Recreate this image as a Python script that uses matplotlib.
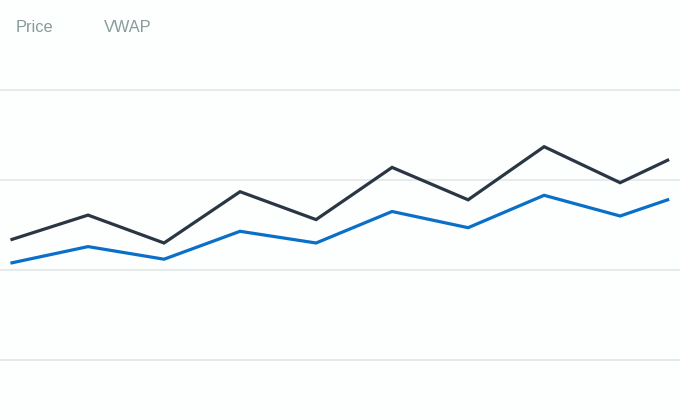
import numpy as np
import matplotlib
matplotlib.use('Agg')
import matplotlib.pyplot as plt

# time offsets (minutes) and series values
t = [0, 8, 16, 24, 32, 40, 48, 56, 64, 69]
price = [113.4, 116.1, 113.0, 118.7, 115.6, 121.4, 117.8, 123.7, 119.7, 122.2]
vwap = [110.8, 112.6, 111.2, 114.3, 113.0, 116.5, 114.7, 118.3, 116.0, 117.8]
labels = ['Price', 'VWAP']
colors = ['#2b3645', '#0a6fc8']
grid_vals = [100, 110, 120, 130]

fig = plt.figure(figsize=(6.8, 4.2), dpi=100)
fig.patch.set_facecolor('#fdfefe')
ax = fig.add_axes([0, 0, 1, 1])
ax.set_facecolor('#fdfefe')

for yv in grid_vals:
    ax.axhline(yv, color='#e6eaea', linewidth=1.4, zorder=1)

ax.plot(t, price, color=colors[0], linewidth=2.3, solid_joinstyle='miter', zorder=3)
ax.plot(t, vwap, color=colors[1], linewidth=2.3, solid_joinstyle='miter', zorder=3)

ax.set_xlim(-1.263, 70.3)
ax.set_ylim(100 - 60 / 9, 140)
ax.axis('off')

fig.text(16 / 680, 1 - 32 / 420, labels[0], color='#889a9a', fontsize=11.8,
         family='Liberation Sans', va='baseline', ha='left')
fig.text(104 / 680, 1 - 32 / 420, labels[1], color='#889a9a', fontsize=11.8,
         family='Liberation Sans', va='baseline', ha='left')

fig.savefig('out.png', dpi=100, facecolor=fig.get_facecolor())
